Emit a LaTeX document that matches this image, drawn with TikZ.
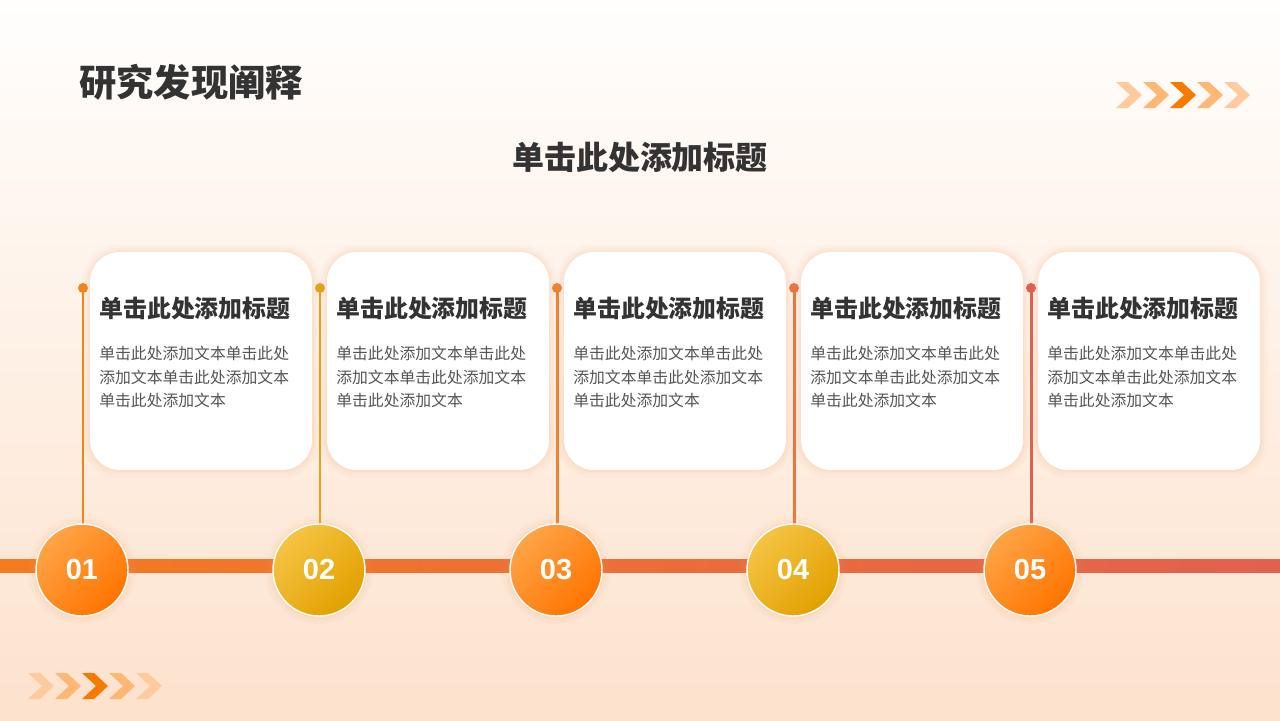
\documentclass[tikz,border=0pt]{standalone}
\usepackage{fontspec}
\setmainfont{Noto Sans CJK SC}
\newfontfamily\numfont{Liberation Sans}
\definecolor{bgtop}{HTML}{FFFEFD}
\definecolor{bgbot}{HTML}{FDE2CD}
\definecolor{inkdark}{HTML}{333333}
\definecolor{inkbody}{HTML}{555555}
\definecolor{barleft}{HTML}{F47B20}
\definecolor{barright}{HTML}{E1614F}
\definecolor{chevlight}{HTML}{FFCB9C}
\definecolor{chevmid}{HTML}{FFB774}
\definecolor{chevdark}{HTML}{F97A00}
\definecolor{stemA}{HTML}{F08519}
\definecolor{stemB}{HTML}{E4A11B}
\definecolor{stemC}{HTML}{EE8233}
\definecolor{stemD}{HTML}{E9763F}
\definecolor{stemE}{HTML}{DE6250}
\definecolor{orangetop}{HTML}{FFA446}
\definecolor{orangebot}{HTML}{FF7400}
\definecolor{goldtop}{HTML}{F5C443}
\definecolor{goldbot}{HTML}{E2A000}
\definecolor{glow}{HTML}{F2A26A}
\newcommand{\chevron}[3]{\fill[#3] (#1,#2) -- ++(12,0) -- ++(14,13) -- ++(-14,13) -- ++(-12,0) -- ++(14,-13) -- cycle;}
\begin{document}
\begin{tikzpicture}[x=0.02cm,y=-0.02cm,
  softglow/.style={preaction={draw=glow,line width=9pt,draw opacity=0.05},
    preaction={draw=glow,line width=5pt,draw opacity=0.07},
    preaction={draw=glow,line width=2pt,draw opacity=0.08}},
  card/.style={softglow,fill=white,rounded corners=17pt,minimum width=4.44cm,minimum height=4.36cm},
  cardtitle/.style={anchor=base west,inner sep=0,text=inkdark,font=\fontsize{13.6}{16}\selectfont\bfseries},
  cardbody/.style={anchor=north west,inner sep=0,text=inkbody,align=left,font=\fontsize{9}{13.3}\selectfont},
  stem/.style={line width=1.7pt},
  stemdot/.style={circle,inner sep=0,minimum size=0.2cm},
  numdot/.style={circle,softglow,draw=white,line width=0.8pt,minimum size=1.84cm,inner sep=0,
    text=white,font=\numfont\fontsize{16.5}{18}\selectfont\bfseries},
  orangedot/.style={numdot,top color=orangetop,bottom color=orangebot,shading angle=45},
  golddot/.style={numdot,top color=goldtop,bottom color=goldbot,shading angle=45}]
\useasboundingbox (0,0) rectangle (1280,720);
\shade[top color=bgtop,bottom color=bgbot] (0,0) rectangle (1280,720);
% headings
\node[anchor=west,inner sep=0,text=inkdark,font=\fontsize{21.2}{25}\selectfont\bfseries] (title) at (79,82) {研究发现阐释};
\node[inner sep=0,text=inkdark,font=\fontsize{18.2}{22}\selectfont\bfseries] (subtitle) at (640,157) {单击此处添加标题};
% chevrons
\chevron{1116}{82}{chevlight}
\chevron{1143}{82}{chevmid}
\chevron{1170}{82}{chevdark}
\chevron{1197}{82}{chevmid}
\chevron{1224}{82}{chevlight}
\chevron{28}{673}{chevlight}
\chevron{55}{673}{chevmid}
\chevron{82}{673}{chevdark}
\chevron{109}{673}{chevmid}
\chevron{136}{673}{chevlight}
% cards
\node[card] (card1) at (201,361) {};
\node[card] (card2) at (438,361) {};
\node[card] (card3) at (675,361) {};
\node[card] (card4) at (912,361) {};
\node[card] (card5) at (1149,361) {};
\node[cardtitle] (head1) at (99,317) {单击此处添加标题};
\node[cardtitle] (head2) at (336,317) {单击此处添加标题};
\node[cardtitle] (head3) at (573,317) {单击此处添加标题};
\node[cardtitle] (head4) at (810,317) {单击此处添加标题};
\node[cardtitle] (head5) at (1047,317) {单击此处添加标题};
\node[cardbody] (text1) at (99,346) {单击此处添加文本单击此处\\添加文本单击此处添加文本\\单击此处添加文本};
\node[cardbody] (text2) at (336,346) {单击此处添加文本单击此处\\添加文本单击此处添加文本\\单击此处添加文本};
\node[cardbody] (text3) at (573,346) {单击此处添加文本单击此处\\添加文本单击此处添加文本\\单击此处添加文本};
\node[cardbody] (text4) at (810,346) {单击此处添加文本单击此处\\添加文本单击此处添加文本\\单击此处添加文本};
\node[cardbody] (text5) at (1047,346) {单击此处添加文本单击此处\\添加文本单击此处添加文本\\单击此处添加文本};
% timeline bar
\shade[left color=barleft,right color=barright] (0,559.5) rectangle (1280,572.5);
% stems
\node[stemdot,fill=stemA] (dot1) at (83,288) {};
\node[stemdot,fill=stemB] (dot2) at (320,288) {};
\node[stemdot,fill=stemC] (dot3) at (557,288) {};
\node[stemdot,fill=stemD] (dot4) at (794,288) {};
\node[stemdot,fill=stemE] (dot5) at (1031,288) {};
\draw[stem,stemA] (dot1.center) -- (83,540);
\draw[stem,stemB] (dot2.center) -- (320,540);
\draw[stem,stemC] (dot3.center) -- (557,540);
\draw[stem,stemD] (dot4.center) -- (794,540);
\draw[stem,stemE] (dot5.center) -- (1031,540);
% numbered circles
\node[orangedot] (num1) at (82,570) {01};
\node[golddot] (num2) at (319,570) {02};
\node[orangedot] (num3) at (556,570) {03};
\node[golddot] (num4) at (793,570) {04};
\node[orangedot] (num5) at (1030,570) {05};
\end{tikzpicture}
\end{document}
